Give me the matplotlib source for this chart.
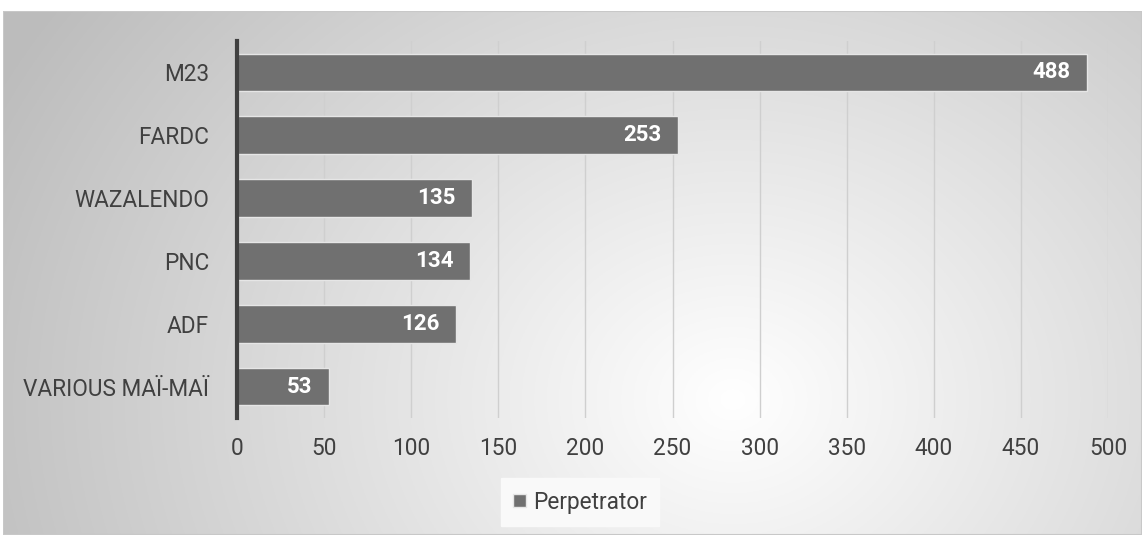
import numpy as np
import matplotlib
matplotlib.use("Agg")
import matplotlib.pyplot as plt
from matplotlib.patches import Rectangle

categories = ["M23", "FARDC", "WAZALENDO", "PNC", "ADF", "VARIOUS MAÏ-MAÏ"]
values = [488, 253, 135, 134, 126, 53]
series_name = "Perpetrator"
xticks = [0, 50, 100, 150, 200, 250, 300, 350, 400, 450, 500]

W, H = 1142, 535
fig = plt.figure(figsize=(W/100, H/100), dpi=100)
fig.patch.set_facecolor("white")

# background panel with radial gradient
bx0, by0 = 3/W, 0
bw, bh = 1 - 3/W, (H - 11)/H
bg = fig.add_axes([bx0, by0, bw, bh], zorder=0)
ny, nx = 300, 600
yy, xx = np.mgrid[0:ny, 0:nx]
cx, cy = 0.64*nx, 0.74*ny
d = np.sqrt(((xx - cx)/nx)**2 + ((yy - cy)/ny*0.55)**2)
d = d / d.max()
v = 1.0 - 0.26*np.clip(d*1.05, 0, 1)
img = np.dstack([v, v, v])
bg.imshow(img, aspect="auto", origin="upper", extent=[0, 1, 0, 1])
bg.set_xlim(0, 1); bg.set_ylim(0, 1)
bg.axis("off")
bg.add_patch(Rectangle((0, 0), 1, 1, fill=False, edgecolor="#c8c8c8", lw=1.5, transform=bg.transAxes))

FS = 16.3
# main axes
left, right = 237/W, 1108/W
top, bottom = 41/H, 418/H
ax = fig.add_axes([left, 1 - bottom, right - left, bottom - top], zorder=2)
ax.patch.set_alpha(0)
y = np.arange(len(categories))
bars = ax.barh(y, values, height=0.6, color="#707070", edgecolor="#e6e6e6", linewidth=1.0,
               label=series_name, zorder=3)
ax.set_ylim(len(categories) - 0.5, -0.5)
ax.set_xlim(0, 500)
ax.set_xticks(xticks)
ax.set_yticks(y)
ax.set_yticklabels(categories)
ax.grid(axis="x", color="#cfcfcf", lw=1.0, zorder=0)
ax.set_axisbelow(True)
for s in ["top", "right", "bottom"]:
    ax.spines[s].set_visible(False)
ax.spines["left"].set_color("#404040")
ax.spines["left"].set_linewidth(3)
ax.spines["left"].set_zorder(4)
ax.tick_params(axis="both", length=0, labelsize=FS, colors="#404040")
ax.tick_params(axis="x", pad=14)
ax.tick_params(axis="y", pad=20)
for lab in ax.get_xticklabels() + ax.get_yticklabels():
    lab.set_fontfamily("Roboto")

for b, val in zip(bars, values):
    ax.text(b.get_width() - 9.5, b.get_y() + b.get_height()/2, str(val), ha="right", va="center",
            color="white", fontsize=16, fontweight="bold", fontfamily="Roboto", zorder=5)

leg = fig.legend(handles=[bars], labels=[series_name], loc="center",
                 bbox_to_anchor=(580/W, 1 - 502/H), frameon=True, fancybox=False,
                 prop={"family": "Roboto", "size": FS}, handlelength=0.55, handleheight=0.55,
                 handletextpad=0.3, borderpad=0.55, borderaxespad=0)
leg.get_frame().set_facecolor("#fafafa")
leg.get_frame().set_edgecolor("#fafafa")
leg.get_frame().set_alpha(0.95)
for t in leg.get_texts():
    t.set_color("#404040")
leg.set_zorder(6)

fig.savefig("out.png", dpi=100)
